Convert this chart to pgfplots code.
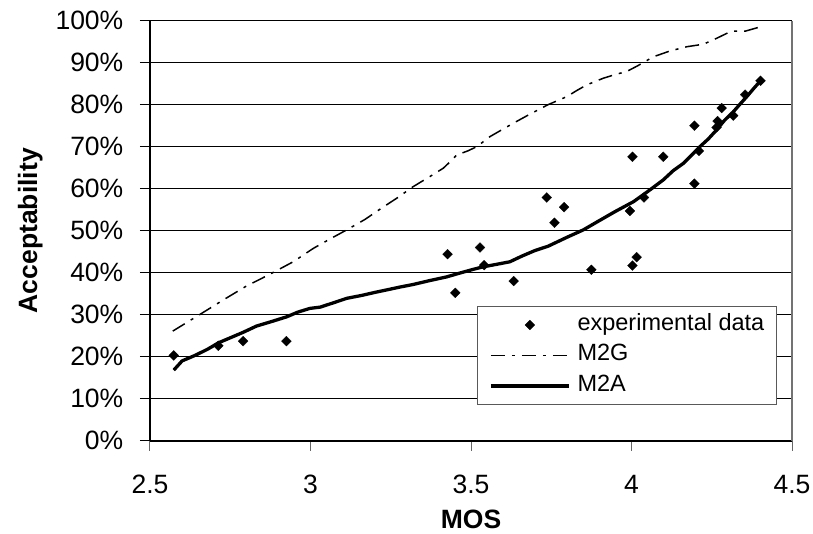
\documentclass[border=0pt]{standalone}
\usepackage{fontspec}
\setmainfont{Liberation Sans}
\usepackage{pgfplots}
\pgfplotsset{compat=1.18}
\newcommand\tickfont{\fontsize{26.5}{31}\selectfont}
\newcommand\legfont{\fontsize{23.5}{27}\selectfont}
\pgfplotsset{
  mylinelegend/.style={legend image code/.code={\draw[##1] (0pt,0pt) -- (78pt,0pt);}},
  mymarklegend/.style={legend image code/.code={\path (0pt,0pt) (78pt,0pt); \draw[##1] plot coordinates {(39pt,0pt)};}},
}
\begin{document}
\begin{tikzpicture}
\begin{axis}[
  at={(0pt,0pt)}, anchor=south west,
  scale only axis, width=642pt, height=420pt,
  xmin=2.5, xmax=4.5, ymin=0, ymax=100,
  axis x line*=bottom, axis y line*=left,
  axis line style={black, line width=2pt},
  xtick={2.5,3,3.5,4,4.5}, xticklabels={2.5,3,3.5,4,4.5},
  ytick={0,10,20,30,40,50,60,70,80,90,100},
  yticklabels={0\%,10\%,20\%,30\%,40\%,50\%,60\%,70\%,80\%,90\%,100\%},
  tick align=outside, major tick length=10pt,
  xtick style={black!60, line width=1pt},
  ytick style={black, line width=1pt},
  ymajorgrids, grid style={black, line width=0.9pt},
  tick label style={font=\tickfont, inner sep=0pt},
  xticklabel style={anchor=base, yshift=-42.3pt},
  yticklabel style={anchor=east, xshift=-16.5pt},
  every axis x label/.style={at={(axis description cs:0.5,-0.2079)}, anchor=base, font=\bfseries\tickfont},
  every axis y label/.style={at={(axis description cs:-0.176,0.5)}, rotate=90, anchor=base, font=\bfseries\tickfont},
  xlabel={MOS}, ylabel={Acceptability},
  legend style={at={(axis description cs:0.509,0.321)}, anchor=north west,
    draw=black!65, line width=0.9pt, fill=white, font=\legfont,
    inner xsep=12pt, inner ysep=7.15pt, column sep=7pt, row sep=7.5pt,
    nodes={inner sep=0pt, text height=17pt, text depth=6pt}},
  legend cell align=left,
  after end axis/.code={\draw[black!55, line width=1.5pt] (rel axis cs:1,0) -- (rel axis cs:1,1);},
]
\addplot[only marks, mark=square*, mark size=3.5pt, mark options={rotate=45, fill=black, draw=black, line width=0.2pt},
  mymarklegend]
coordinates {
(2.574,20.3) (2.713,22.6) (2.790,23.7) (2.925,23.7) (3.427,44.4) (3.451,35.2)
(3.528,46.0) (3.541,41.8) (3.633,38.0) (3.736,57.9) (3.760,51.9) (3.790,55.6)
(3.875,40.7) (3.995,54.7) (4.003,67.6) (4.003,41.7) (4.016,43.7) (4.039,57.9)
(4.099,67.6) (4.196,75.0) (4.196,61.2) (4.210,69.0) (4.265,74.6) (4.268,76.1)
(4.281,79.2) (4.317,77.4) (4.354,82.4) (4.402,85.7)
};
\addlegendentry{experimental data}
\addplot[black, line width=1.5pt, dash pattern=on 14pt off 7pt on 3pt off 7pt, mark=none,
  mylinelegend]
coordinates {
(2.571,26.1) (2.65,29.8) (2.728,33.5) (2.80,36.8) (2.87,39.5) (2.946,42.6)
(3.009,45.8) (3.06,48.0) (3.113,50.2) (3.17,52.7) (3.22,55.3) (3.27,57.8)
(3.320,60.5) (3.37,62.8) (3.414,64.9) (3.44,66.8) (3.455,68.0) (3.49,69.0)
(3.518,70.0) (3.559,72.4) (3.60,74.2) (3.632,75.6) (3.68,77.6) (3.74,80.0)
(3.798,81.9) (3.830,83.4) (3.860,84.7) (3.912,86.3) (3.950,87.2) (3.985,87.9)
(4.02,89.3) (4.068,91.4) (4.12,92.8) (4.172,93.8) (4.224,94.4) (4.265,95.8)
(4.30,97.1) (4.317,97.5) (4.354,97.5) (4.395,98.4)
};
\addlegendentry{M2G}
\addplot[black, line width=3.3pt, mark=none, line join=round,
  mylinelegend]
coordinates {
(2.574,16.8) (2.60,19.0) (2.64,20.3) (2.68,21.8) (2.713,23.3) (2.75,24.5)
(2.79,25.8) (2.832,27.3) (2.88,28.4) (2.926,29.5) (2.96,30.6) (2.998,31.5)
(3.03,31.8) (3.07,32.8) (3.113,33.9) (3.16,34.6) (3.20,35.3) (3.237,35.9)
(3.28,36.6) (3.320,37.2) (3.37,38.1) (3.424,39.0) (3.46,39.8) (3.507,40.8)
(3.538,41.4) (3.58,42.0) (3.621,42.6) (3.66,44.0) (3.70,45.3) (3.74,46.3)
(3.798,48.4) (3.85,50.2) (3.902,52.5) (3.95,54.6) (4.006,56.9) (4.05,59.3)
(4.099,62.1) (4.13,64.3) (4.161,66.0) (4.19,68.2) (4.213,70.0) (4.24,71.9)
(4.265,74.0) (4.29,76.3) (4.317,78.3) (4.34,80.3) (4.359,81.9) (4.38,83.8)
(4.402,85.7)
};
\addlegendentry{M2A}
\end{axis}
\pgfresetboundingbox
\path[use as bounding box] (-150pt,-92.3pt) rectangle (663pt,440.7pt);
\end{tikzpicture}
\end{document}
